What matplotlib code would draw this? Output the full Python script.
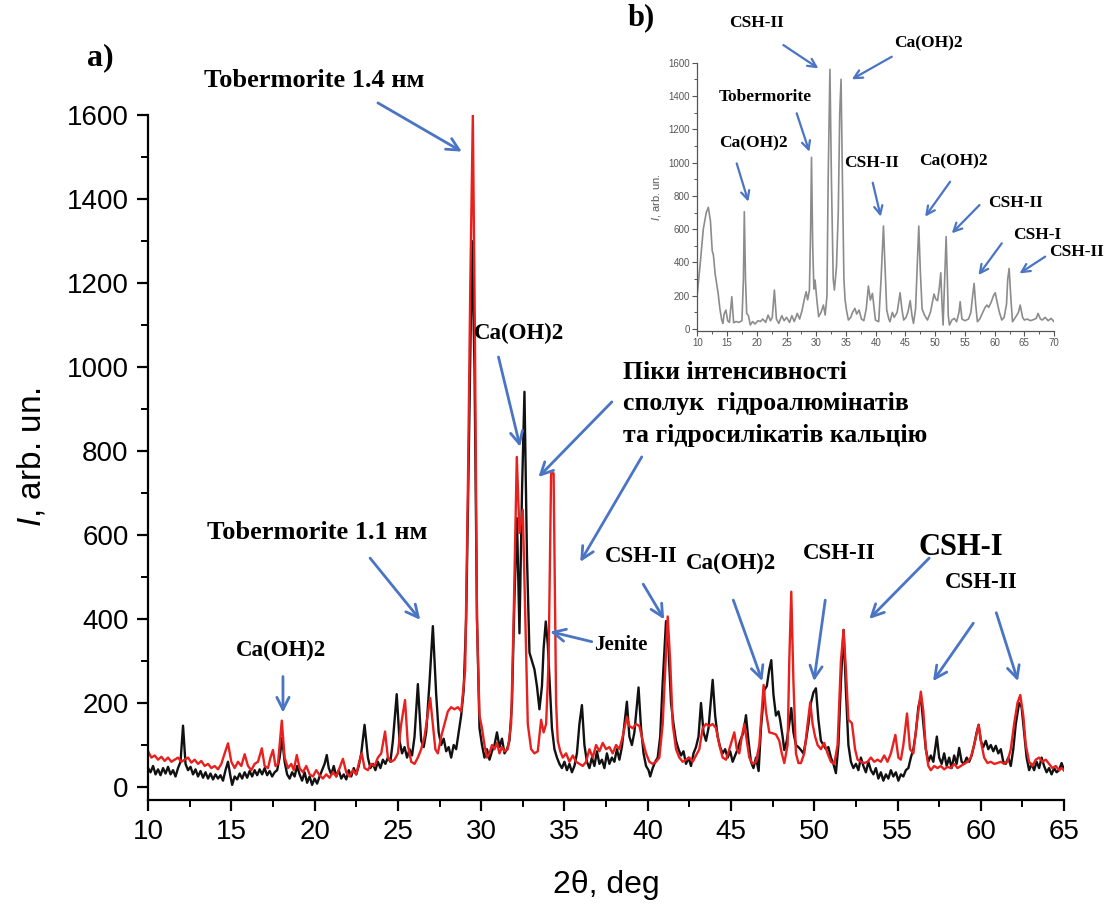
import numpy as np
import matplotlib
matplotlib.use("Agg")
import matplotlib.pyplot as plt
from matplotlib.ticker import MultipleLocator

plt.rcParams['font.family'] = ['Liberation Sans', 'DejaVu Sans']
plt.rcParams['mathtext.fontset'] = 'custom'
plt.rcParams['mathtext.it'] = 'Liberation Sans:italic'
plt.rcParams['mathtext.rm'] = 'Liberation Sans'

# black pattern (2theta, intensity)
black_pts = [
    (10.0, 45), (10.15, 35), (10.3, 50), (10.45, 30), (10.6, 42), (10.75, 28), (10.9, 45), (11.05, 32),
    (11.2, 48), (11.35, 30), (11.5, 40), (11.65, 25), (11.8, 45), (11.95, 60), (12.1, 146), (12.25, 55),
    (12.4, 40), (12.55, 48), (12.7, 30), (12.85, 42), (13.0, 25), (13.15, 38), (13.3, 22), (13.45, 35),
    (13.6, 20), (13.75, 32), (13.9, 18), (14.05, 30), (14.2, 20), (14.35, 28), (14.5, 15), (14.65, 40),
    (14.8, 60), (14.95, 25), (15.05, 5), (15.2, 25), (15.35, 18), (15.5, 32), (15.65, 20), (15.8, 35),
    (15.95, 22), (16.1, 38), (16.25, 25), (16.4, 40), (16.55, 28), (16.7, 42), (16.85, 30), (17.0, 45),
    (17.15, 28), (17.3, 38), (17.45, 25), (17.6, 35), (17.75, 40), (17.9, 70), (18.05, 117), (18.2, 60),
    (18.35, 30), (18.5, 20), (18.65, 35), (18.8, 25), (18.95, 50), (19.1, 30), (19.25, 15), (19.4, 35),
    (19.55, 10), (19.7, 25), (19.85, 5), (20.0, 20), (20.15, 8), (20.3, 25), (20.45, 40), (20.6, 55),
    (20.73, 76), (20.85, 45), (21.0, 30), (21.15, 50), (21.3, 25), (21.45, 40), (21.6, 20), (21.75, 30),
    (21.9, 18), (22.05, 40), (22.2, 25), (22.35, 45), (22.5, 30), (22.65, 50), (22.8, 80), (23.0, 148),
    (23.2, 70), (23.35, 45), (23.5, 55), (23.65, 40), (23.8, 60), (23.95, 45), (24.1, 65), (24.25, 55),
    (24.4, 70), (24.55, 60), (24.7, 110), (24.93, 221), (25.1, 110), (25.25, 80), (25.4, 95), (25.55, 70),
    (25.7, 90), (25.85, 75), (26.0, 120), (26.2, 245), (26.4, 110), (26.55, 95), (26.7, 130), (26.9, 250),
    (27.1, 383), (27.3, 220), (27.45, 130), (27.6, 100), (27.75, 115), (27.9, 85), (28.05, 95), (28.2, 70),
    (28.35, 100), (28.5, 90), (28.65, 130), (28.8, 170), (28.95, 230), (29.1, 400), (29.3, 900), (29.45, 1300),
    (29.6, 1000), (29.75, 400), (29.9, 140), (30.05, 100), (30.2, 70), (30.35, 90), (30.5, 65), (30.65, 85),
    (30.8, 100), (30.95, 130), (31.1, 95), (31.25, 115), (31.4, 80), (31.55, 90), (31.7, 110), (31.85, 200),
    (32.0, 450), (32.15, 640), (32.3, 366), (32.45, 700), (32.6, 941), (32.75, 550), (32.9, 320), (33.05, 300),
    (33.2, 280), (33.35, 240), (33.5, 185), (33.65, 240), (33.75, 330), (33.88, 394), (34.0, 340), (34.1, 260),
    (34.25, 140), (34.4, 90), (34.55, 70), (34.7, 55), (34.85, 45), (35.0, 60), (35.15, 40), (35.3, 55),
    (35.45, 35), (35.6, 50), (35.75, 80), (35.9, 150), (36.05, 195), (36.2, 100), (36.35, 60), (36.5, 45),
    (36.65, 70), (36.8, 50), (36.95, 85), (37.1, 55), (37.25, 65), (37.4, 45), (37.55, 80), (37.7, 55),
    (37.85, 70), (38.0, 60), (38.15, 90), (38.3, 65), (38.45, 95), (38.6, 150), (38.75, 203), (38.9, 120),
    (39.05, 100), (39.2, 130), (39.45, 237), (39.6, 140), (39.75, 80), (39.9, 50), (40.05, 40), (40.15, 25),
    (40.3, 45), (40.45, 60), (40.6, 70), (40.75, 120), (40.9, 250), (41.1, 395), (41.25, 330), (41.4, 200),
    (41.55, 150), (41.7, 110), (41.85, 90), (42.0, 75), (42.15, 85), (42.3, 55), (42.45, 70), (42.6, 50),
    (42.75, 80), (42.9, 95), (43.05, 120), (43.2, 200), (43.35, 130), (43.5, 110), (43.65, 140), (43.9, 255),
    (44.05, 170), (44.2, 120), (44.35, 95), (44.5, 80), (44.65, 90), (44.8, 70), (44.95, 85), (45.1, 60),
    (45.25, 75), (45.4, 90), (45.55, 110), (45.75, 130), (45.9, 171), (46.05, 110), (46.2, 60), (46.35, 45),
    (46.5, 70), (46.66, 38), (46.8, 140), (47.0, 231), (47.15, 240), (47.3, 280), (47.42, 302), (47.55, 220),
    (47.7, 170), (47.85, 180), (47.95, 160), (48.1, 120), (48.2, 88), (48.35, 110), (48.5, 150), (48.62, 188),
    (48.75, 130), (48.9, 100), (49.05, 95), (49.2, 88), (49.35, 80), (49.5, 110), (49.65, 150), (49.8, 200),
    (49.95, 225), (50.1, 235), (50.25, 160), (50.4, 110), (50.55, 100), (50.7, 90), (50.85, 95), (51.0, 70),
    (51.15, 55), (51.3, 33), (51.45, 100), (51.6, 250), (51.76, 374), (51.9, 230), (52.05, 100), (52.2, 60),
    (52.35, 45), (52.5, 55), (52.65, 40), (52.8, 70), (52.95, 50), (53.1, 35), (53.25, 60), (53.4, 40),
    (53.55, 30), (53.7, 45), (53.85, 20), (54.0, 35), (54.15, 15), (54.3, 30), (54.45, 20), (54.6, 40),
    (54.75, 25), (54.9, 35), (55.05, 15), (55.2, 30), (55.35, 25), (55.5, 40), (55.65, 45), (55.8, 70),
    (55.95, 90), (56.1, 130), (56.25, 190), (56.4, 215), (56.55, 150), (56.7, 90), (56.85, 60), (57.0, 75),
    (57.15, 60), (57.36, 120), (57.5, 70), (57.65, 55), (57.8, 80), (57.95, 50), (58.1, 70), (58.25, 45),
    (58.4, 75), (58.55, 55), (58.7, 93), (58.85, 60), (59.0, 55), (59.15, 70), (59.3, 60), (59.45, 75),
    (59.6, 100), (59.75, 130), (59.87, 148), (60.0, 110), (60.15, 95), (60.3, 110), (60.45, 90), (60.6, 100),
    (60.75, 85), (60.9, 98), (61.05, 80), (61.2, 90), (61.35, 60), (61.5, 55), (61.65, 70), (61.8, 50),
    (61.95, 90), (62.1, 150), (62.3, 200), (62.45, 190), (62.6, 130), (62.75, 70), (62.9, 40), (63.05, 55),
    (63.2, 40), (63.35, 60), (63.5, 45), (63.65, 70), (63.8, 50), (63.95, 35), (64.1, 45), (64.25, 30),
    (64.4, 45), (64.55, 35), (64.7, 40), (64.85, 57), (65.0, 40),
]

# red pattern
red_pts = [
    (10.0, 85), (10.2, 70), (10.4, 75), (10.6, 65), (10.8, 72), (11.0, 62), (11.2, 70), (11.4, 60),
    (11.6, 65), (11.8, 70), (12.0, 60), (12.2, 65), (12.4, 70), (12.6, 58), (12.8, 65), (13.0, 55),
    (13.2, 62), (13.4, 50), (13.6, 55), (13.8, 45), (14.0, 50), (14.2, 42), (14.4, 55), (14.6, 80),
    (14.8, 104), (15.0, 60), (15.2, 45), (15.4, 60), (15.6, 50), (15.8, 78), (16.0, 50), (16.2, 40),
    (16.4, 55), (16.6, 60), (16.83, 92), (17.0, 50), (17.2, 45), (17.35, 70), (17.5, 88), (17.65, 50),
    (17.8, 55), (18.03, 158), (18.2, 70), (18.4, 45), (18.6, 55), (18.75, 40), (18.93, 76), (19.1, 45),
    (19.3, 35), (19.5, 50), (19.7, 30), (19.9, 25), (20.1, 40), (20.3, 28), (20.5, 20), (20.7, 30),
    (20.9, 22), (21.1, 35), (21.3, 25), (21.5, 45), (21.7, 67), (21.9, 35), (22.1, 25), (22.3, 40),
    (22.5, 30), (22.65, 55), (22.83, 80), (23.0, 45), (23.2, 40), (23.4, 55), (23.6, 50), (23.8, 70),
    (24.0, 80), (24.23, 132), (24.4, 70), (24.6, 60), (24.8, 65), (25.0, 80), (25.2, 150), (25.43, 207),
    (25.6, 100), (25.8, 60), (26.0, 55), (26.2, 70), (26.4, 90), (26.6, 120), (26.94, 212), (27.1, 150),
    (27.25, 90), (27.4, 80), (27.6, 120), (27.8, 150), (28.0, 180), (28.2, 190), (28.4, 185), (28.6, 190),
    (28.8, 180), (29.04, 278), (29.2, 700), (29.35, 1200), (29.5, 1600), (29.62, 1100), (29.75, 400), (29.9, 170),
    (30.05, 140), (30.2, 100), (30.35, 70), (30.5, 80), (30.65, 100), (30.8, 90), (30.95, 105), (31.1, 80),
    (31.25, 95), (31.4, 85), (31.6, 90), (31.8, 150), (31.95, 400), (32.14, 786), (32.3, 605), (32.5, 660),
    (32.65, 400), (32.8, 150), (33.0, 90), (33.2, 80), (33.4, 85), (33.6, 160), (33.75, 130), (33.9, 150),
    (34.05, 300), (34.2, 747), (34.35, 747), (34.5, 200), (34.6, 110), (34.75, 85), (34.9, 70), (35.1, 80),
    (35.3, 60), (35.5, 75), (35.7, 60), (35.9, 55), (36.1, 50), (36.3, 60), (36.5, 90), (36.7, 70),
    (36.9, 100), (37.1, 85), (37.3, 105), (37.5, 90), (37.7, 95), (37.9, 80), (38.1, 100), (38.3, 90),
    (38.5, 120), (38.75, 167), (38.9, 145), (39.1, 140), (39.3, 150), (39.5, 145), (39.7, 110), (39.9, 80),
    (40.1, 60), (40.3, 55), (40.5, 60), (40.7, 70), (40.9, 150), (41.2, 406), (41.35, 300), (41.5, 150),
    (41.7, 90), (41.9, 70), (42.1, 60), (42.3, 65), (42.5, 70), (42.7, 60), (42.9, 75), (43.1, 90),
    (43.3, 140), (43.5, 150), (43.7, 145), (43.9, 150), (44.1, 140), (44.3, 100), (44.5, 70), (44.7, 65),
    (44.9, 90), (45.05, 110), (45.2, 130), (45.35, 90), (45.5, 80), (45.65, 120), (45.8, 150), (45.95, 110),
    (46.1, 70), (46.3, 55), (46.5, 60), (46.7, 100), (46.96, 243), (47.1, 180), (47.3, 130), (47.5, 128),
    (47.7, 125), (47.9, 110), (48.05, 80), (48.2, 57), (48.4, 100), (48.5, 300), (48.62, 465), (48.75, 250),
    (48.9, 80), (49.05, 57), (49.2, 57), (49.4, 80), (49.6, 150), (49.76, 202), (49.9, 150), (50.05, 120),
    (50.2, 100), (50.4, 90), (50.6, 105), (50.8, 80), (51.0, 60), (51.2, 55), (51.4, 100), (51.6, 300),
    (51.76, 374), (51.9, 280), (52.05, 160), (52.26, 152), (52.45, 90), (52.6, 65), (52.8, 60), (53.0, 57),
    (53.2, 60), (53.4, 70), (53.6, 60), (53.8, 65), (54.0, 60), (54.2, 75), (54.4, 60), (54.6, 80),
    (54.87, 124), (55.05, 70), (55.2, 65), (55.35, 100), (55.57, 175), (55.75, 90), (55.95, 80), (56.15, 150),
    (56.4, 227), (56.55, 180), (56.7, 90), (56.85, 50), (57.0, 40), (57.2, 50), (57.4, 45), (57.6, 50),
    (57.8, 42), (58.0, 48), (58.2, 45), (58.4, 55), (58.6, 45), (58.8, 50), (59.0, 55), (59.2, 60),
    (59.4, 70), (59.6, 100), (59.87, 148), (60.05, 100), (60.2, 70), (60.4, 57), (60.6, 60), (60.8, 55),
    (61.0, 57), (61.2, 60), (61.4, 55), (61.6, 60), (61.8, 90), (62.0, 150), (62.2, 200), (62.37, 219),
    (62.55, 170), (62.7, 100), (62.9, 60), (63.1, 50), (63.3, 65), (63.5, 70), (63.7, 60), (63.9, 65),
    (64.1, 55), (64.3, 45), (64.5, 50), (64.7, 40), (64.85, 45), (65.0, 40),
]

# inset (b) grey pattern
inset_pts = [
    (10.0, 214), (10.5, 400), (11.0, 600), (11.5, 700), (11.85, 731), (12.2, 650), (12.5, 470), (12.7, 445),
    (13.0, 330), (13.5, 214), (13.8, 120), (14.1, 54), (14.3, 34), (14.5, 90), (14.8, 114), (15.1, 50),
    (15.4, 40), (15.8, 194), (16.1, 38), (16.5, 45), (17.0, 40), (17.5, 50), (17.75, 300), (17.9, 705),
    (18.1, 300), (18.3, 94), (18.6, 80), (18.9, 24), (19.3, 45), (19.7, 30), (20.2, 50), (20.6, 45),
    (21.0, 60), (21.5, 40), (21.9, 84), (22.3, 50), (22.6, 70), (22.96, 234), (23.3, 60), (23.7, 34),
    (24.2, 80), (24.6, 50), (25.0, 70), (25.5, 40), (25.9, 80), (26.3, 45), (26.8, 94), (27.2, 60),
    (27.6, 110), (28.0, 180), (28.3, 224), (28.55, 175), (28.85, 234), (29.05, 600), (29.2, 1031), (29.4, 500),
    (29.6, 240), (29.8, 294), (30.1, 174), (30.4, 74), (30.8, 100), (31.2, 144), (31.5, 84), (31.8, 200),
    (32.0, 900), (32.3, 1560), (32.55, 900), (32.85, 300), (33.05, 234), (33.4, 374), (33.7, 700), (33.95, 1300),
    (34.17, 1500), (34.4, 900), (34.65, 300), (34.85, 174), (35.1, 110), (35.4, 54), (35.8, 70), (36.1, 100),
    (36.5, 124), (36.8, 90), (37.2, 114), (37.6, 60), (38.0, 50), (38.4, 120), (38.77, 258), (39.1, 174),
    (39.45, 214), (39.8, 100), (39.95, 54), (40.5, 44), (40.9, 300), (41.3, 619), (41.6, 350), (41.85, 114),
    (42.2, 60), (42.4, 44), (42.8, 100), (43.1, 70), (43.6, 100), (44.1, 218), (44.4, 120), (44.7, 54),
    (45.1, 70), (45.4, 100), (45.8, 170), (46.1, 80), (46.35, 34), (46.7, 120), (47.0, 400), (47.24, 619),
    (47.5, 350), (47.8, 120), (48.2, 84), (48.7, 54), (49.2, 100), (49.8, 210), (50.1, 180), (50.4, 170),
    (50.7, 250), (50.94, 338), (51.15, 150), (51.33, 24), (51.5, 200), (51.84, 555), (52.05, 300), (52.2, 80),
    (52.4, 24), (52.8, 54), (53.2, 64), (53.6, 44), (54.0, 100), (54.2, 164), (54.5, 60), (55.0, 50),
    (55.6, 60), (56.0, 100), (56.3, 200), (56.55, 274), (56.8, 150), (57.1, 44), (57.5, 60), (58.0, 100),
    (58.4, 130), (58.7, 144), (59.0, 130), (59.4, 160), (59.8, 200), (60.1, 218), (60.4, 164), (60.8, 100),
    (61.2, 54), (61.6, 70), (62.0, 150), (62.2, 300), (62.44, 364), (62.7, 200), (63.0, 44), (63.5, 70),
    (64.0, 100), (64.3, 144), (64.7, 70), (65.0, 54), (65.5, 60), (66.0, 50), (66.5, 56), (67.0, 64),
    (67.3, 94), (67.7, 60), (68.0, 54), (68.5, 70), (69.0, 50), (69.5, 64), (70.0, 44),
]

# labels: text, text pos, list of arrow (tail, head), fontsize
main_labels = [
    ("Tobermorite 1.4 нм", (20.0, 1683), [((23.8, 1629), (28.84, 1513))], 19),
    ("Ca(OH)2", (32.3, 1081), [((31.04, 1024), (32.34, 810))], 16.5),
    ("Tobermorite 1.1 нм", (20.15, 605), [((23.33, 545), (26.34, 398))], 19),
    ("Ca(OH)2", (18.0, 326), [((18.1, 263), (18.1, 177))], 16.5),
    ("CSH-II", (39.6, 550), [((39.73, 483), (40.99, 399))], 16.5),
    ("Ca(OH)2", (45.0, 533), [((45.14, 445), (46.88, 252))], 16.5),
    ("CSH-II", (51.5, 555), [((50.66, 445), (49.98, 252))], 16.5),
    ("CSH-I", (58.8, 571), [((56.9, 545), (53.3, 400))], 22),
    ("CSH-II", (60.0, 488), [((59.55, 390), (57.13, 252)), ((60.93, 415), (62.23, 252))], 16.5),
]
jenite_arrow = ((36.64, 346), (34.14, 370))
piki_arrows = [((37.85, 917), (33.44, 738)), ((39.64, 786), (35.95, 536))]
piki_text = "Піки інтенсивності\nсполук  гідроалюмінатів\nта гідросилікатів кальцію"

inset_labels = [
    ("CSH-II", (19.98, 1836), [((24.47, 1706), (30.36, 1566))]),
    ("Ca(OH)2", (48.87, 1716), [((42.7, 1636), (35.97, 1500))]),
    ("Tobermorite", (21.39, 1396), [((26.71, 1296), (28.84, 1065))]),
    ("Ca(OH)2", (19.42, 1115), [((16.62, 995), (18.58, 765))]),
    ("CSH-II", (39.33, 995), [((39.5, 879), (40.85, 675))]),
    ("Ca(OH)2", (53.07, 1005), [((52.51, 885), (48.31, 675))]),
    ("CSH-II", (63.45, 755), [((57.45, 745), (52.79, 575))]),
    ("CSH-I", (67.1, 565), [((61.2, 515), (57.28, 324))]),
    ("CSH-II", (73.82, 465), [((68.5, 435), (64.18, 334))]),
]

arrow_col = "#4a74c4"
serif = "Liberation Serif"

fig = plt.figure(figsize=(11.09, 9.06), dpi=100)
ax = fig.add_axes([0.1335, 0.117, 0.826, 0.756])

bx, by = np.array(black_pts).T
rx, ry = np.array(red_pts).T
ax.plot(bx, by, color="#111111", lw=1.7)
ax.plot(rx, ry, color="#e8201e", lw=1.7)

ax.set_xlim(10, 65)
ax.set_ylim(-31, 1600)
for s in ["top", "right"]:
    ax.spines[s].set_visible(False)
for s in ["left", "bottom"]:
    ax.spines[s].set_linewidth(1.6)
ax.xaxis.set_major_locator(MultipleLocator(5))
ax.xaxis.set_minor_locator(MultipleLocator(2.5))
ax.yaxis.set_major_locator(MultipleLocator(200))
ax.yaxis.set_minor_locator(MultipleLocator(100))
ax.tick_params(which="major", direction="out", length=8, width=1.6, labelsize=20, pad=6)
ax.tick_params(which="minor", direction="out", length=5, width=1.4)
ax.set_xlabel("2θ, deg", fontsize=23, labelpad=18)
ax.set_ylabel(r"$\mathit{I}$, arb. un.", fontsize=24, labelpad=14)

for txt, pos, arrows, fs in main_labels:
    ax.text(pos[0], pos[1], txt, family=serif, weight="bold", fontsize=fs,
            ha="center", va="center", clip_on=False)
    for tail, head in arrows:
        ax.annotate("", xy=head, xytext=tail, annotation_clip=False,
                    arrowprops=dict(arrowstyle="->", color=arrow_col, lw=2, mutation_scale=22,
                                    shrinkA=0, shrinkB=0))

ax.text(36.8, 338, "Jenite", family=serif, weight="bold", fontsize=15, ha="left", va="center")
ax.annotate("", xy=jenite_arrow[1], xytext=jenite_arrow[0],
            arrowprops=dict(arrowstyle="->", color=arrow_col, lw=2, mutation_scale=22, shrinkA=0, shrinkB=0))
ax.text(38.5, 912, piki_text, family=serif, weight="bold", fontsize=18.5,
        ha="left", va="center", linespacing=1.45)
for tail, head in piki_arrows:
    ax.annotate("", xy=head, xytext=tail,
                arrowprops=dict(arrowstyle="->", color=arrow_col, lw=2, mutation_scale=22, shrinkA=0, shrinkB=0))

fig.text(100 / 1109, 1 - 58 / 906, "a)", family=serif, weight="bold", fontsize=23, ha="center", va="center")
fig.text(641 / 1109, 1 - 18 / 906, "b)", family=serif, weight="bold", fontsize=22, ha="center", va="center")

# inset
axi = fig.add_axes([0.6288, 0.635, 0.3217, 0.2958])
ix, iy = np.array(inset_pts).T
axi.plot(ix, iy, color="#8c8c8c", lw=1.2)
axi.set_xlim(10, 70)
axi.set_ylim(-10, 1600)
for s in ["top", "right"]:
    axi.spines[s].set_visible(False)
for s in ["left", "bottom"]:
    axi.spines[s].set_color("#555555")
    axi.spines[s].set_linewidth(0.9)
axi.xaxis.set_major_locator(MultipleLocator(5))
axi.xaxis.set_minor_locator(MultipleLocator(2.5))
axi.yaxis.set_major_locator(MultipleLocator(200))
axi.yaxis.set_minor_locator(MultipleLocator(100))
axi.tick_params(which="major", direction="out", length=3.5, width=0.8, labelsize=7,
                colors="#555555", pad=2)
axi.tick_params(which="minor", direction="out", length=2, width=0.7, colors="#555555")
axi.set_ylabel(r"$\mathit{I}$, arb. un.", fontsize=8, color="#555555", labelpad=4)

for txt, pos, arrows in inset_labels:
    axi.text(pos[0], pos[1], txt, family=serif, weight="bold", fontsize=12.5,
             ha="center", va="center", clip_on=False)
    for tail, head in arrows:
        axi.annotate("", xy=head, xytext=tail, annotation_clip=False,
                     arrowprops=dict(arrowstyle="->", color=arrow_col, lw=1.6, mutation_scale=15,
                                     shrinkA=0, shrinkB=0))

fig.savefig("out.png", dpi=100)
